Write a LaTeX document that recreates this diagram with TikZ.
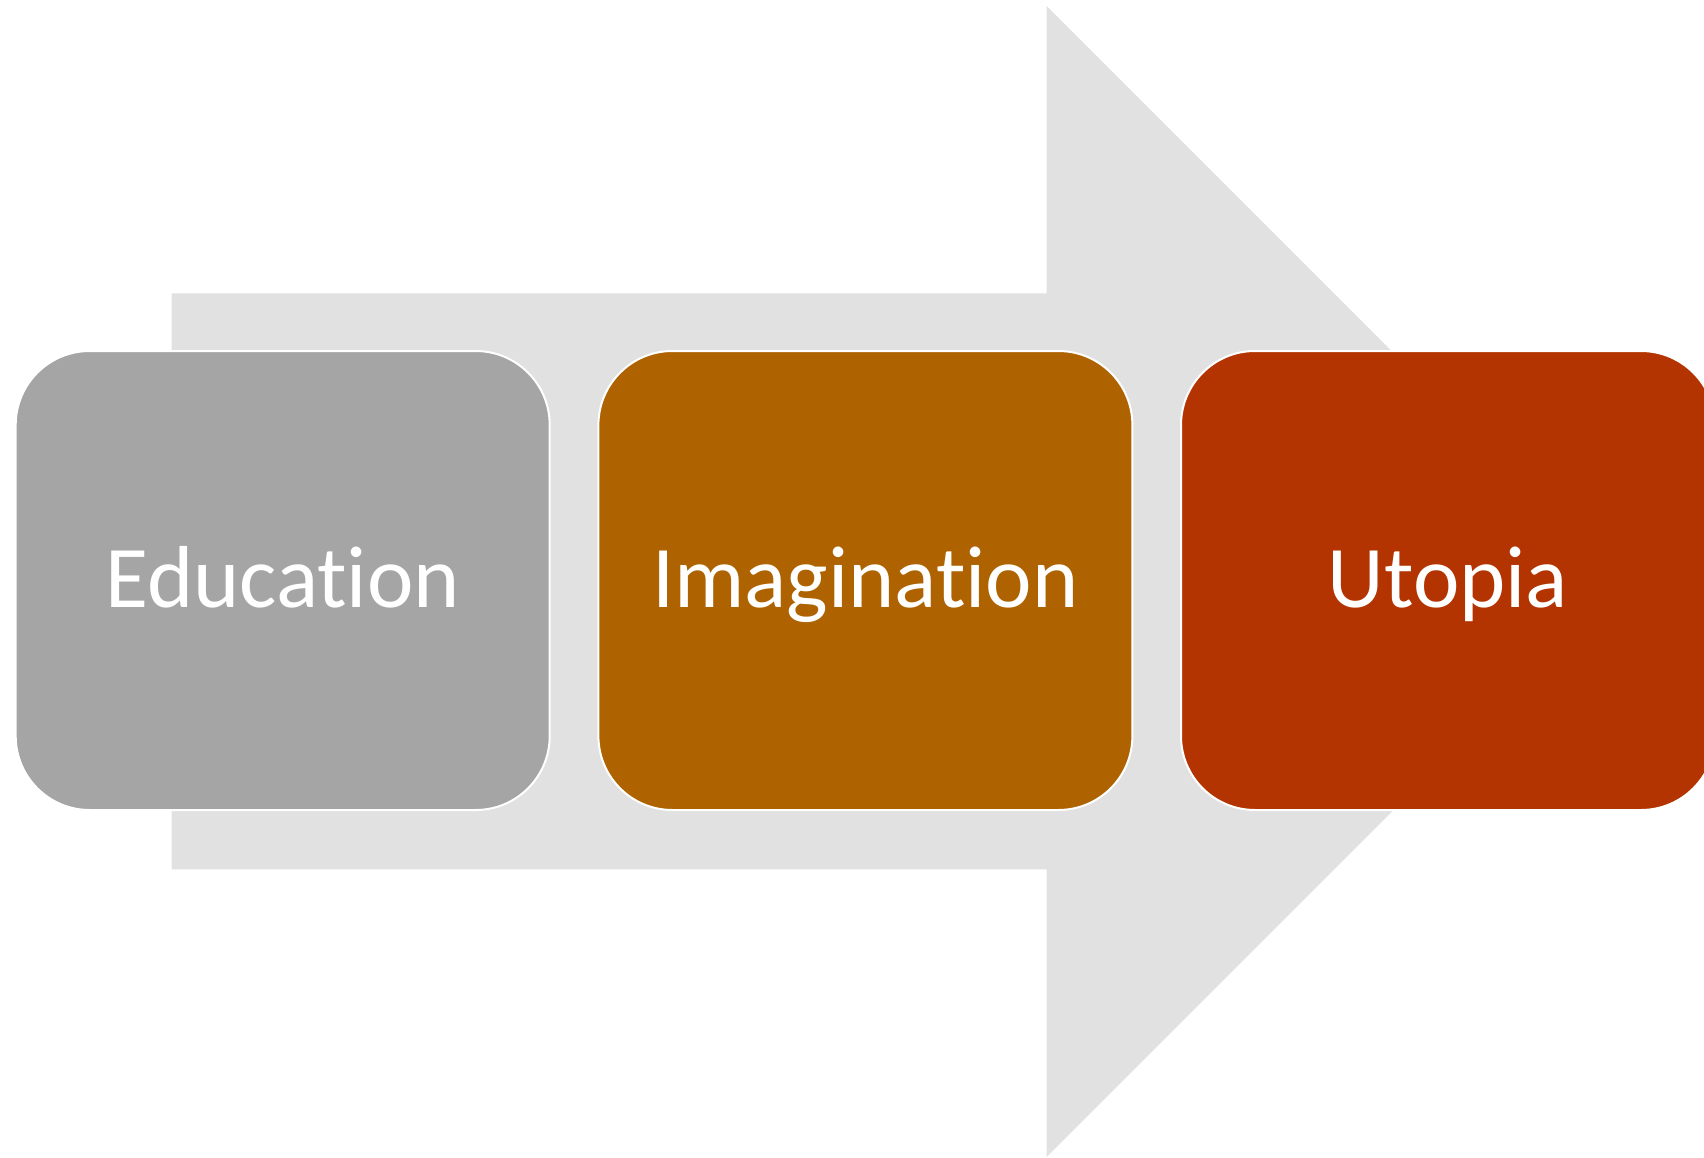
\documentclass[tikz,border=0pt]{standalone}
\usepackage{fontspec}
\setmainfont{Carlito}[Ligatures={NoCommon,NoRare,NoContextual}]
\definecolor{arrowgray}{HTML}{E1E1E1}
\definecolor{edugray}{HTML}{A5A5A5}
\definecolor{imagorange}{HTML}{AE6300}
\definecolor{utopred}{HTML}{B33400}
\tikzset{
  stagebox/.style={draw=white, line width=2pt, rounded corners=74pt,
    minimum width=534pt, minimum height=459pt, inner sep=0pt,
    text=white, font=\fontsize{88}{100}\selectfont,
    text height=53pt, text depth=0pt},
}
\begin{document}
\begin{tikzpicture}[x=1pt,y=-1pt]
\useasboundingbox (0,0) rectangle (1704,1158);
\clip (0,0) rectangle (1704,1158);
\fill[arrowgray] (171.7,293.4) -- (1046.5,293.4) -- (1046.5,6) -- (1622,581.5)
  -- (1046.5,1157) -- (1046.5,869.4) -- (171.7,869.4) -- cycle;
\node[stagebox, fill=edugray] (edu) at (282.7,580.5) {Educat\kern0pt ion};
\node[stagebox, fill=imagorange] (imag) at (865.4,580.5) {Imaginat\kern0pt ion};
\node[stagebox, fill=utopred] (utop) at (1448,580.5) {Utopia};
\end{tikzpicture}
\end{document}
